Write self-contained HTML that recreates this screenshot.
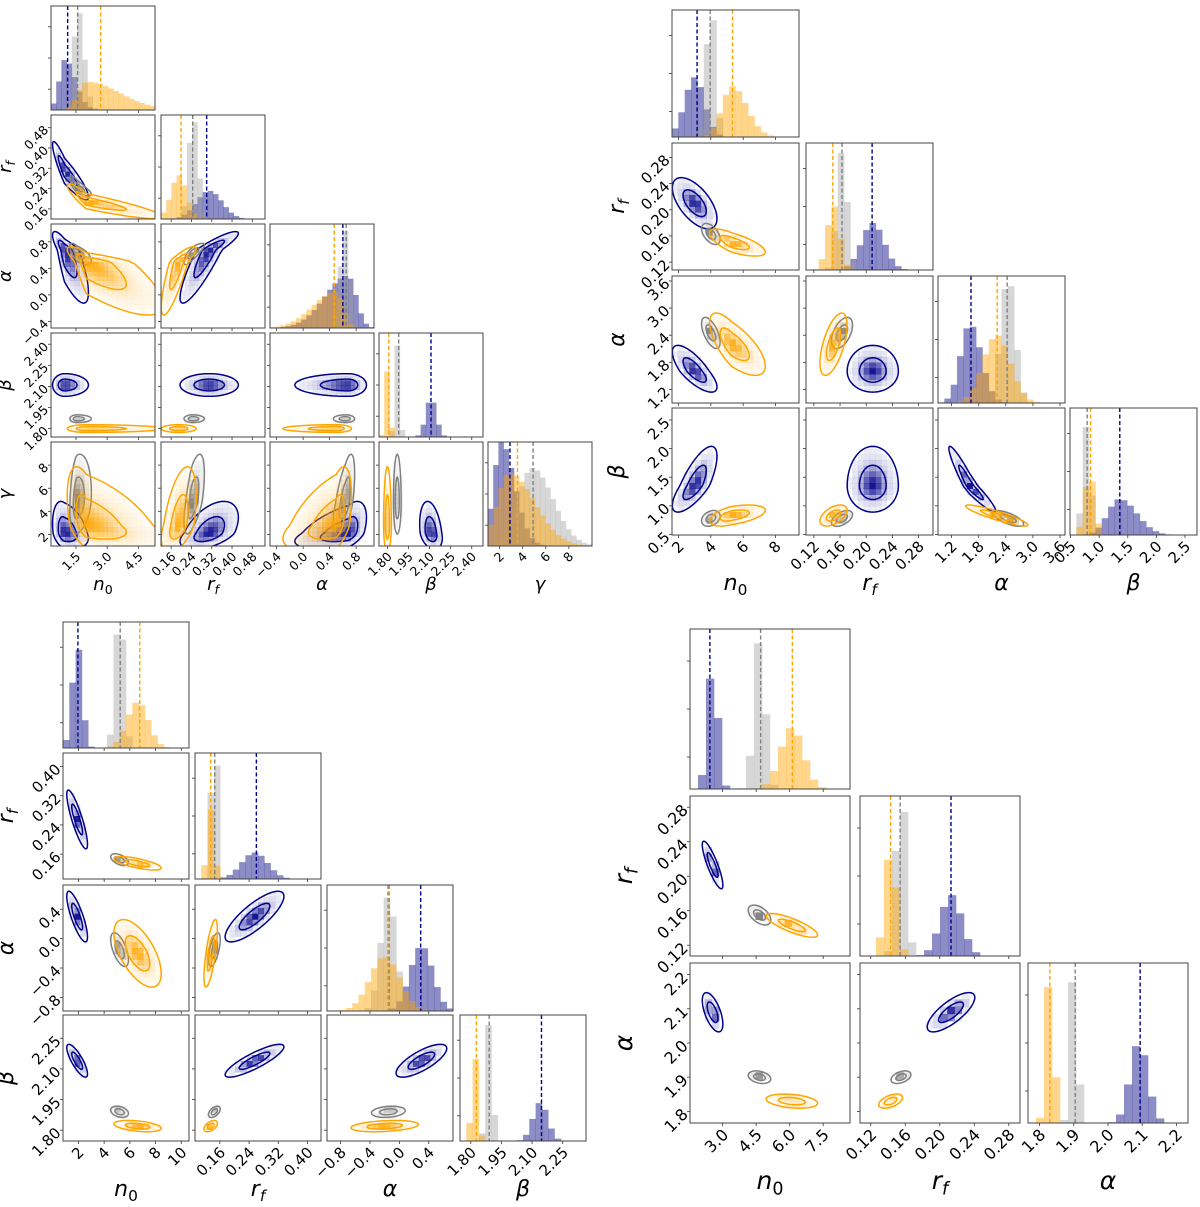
<!DOCTYPE html>
<html><head><meta charset="utf-8"><title>Corner plots</title>
<style>
html,body{margin:0;padding:0;background:#fff;}
svg{display:block;font-family:"DejaVu Sans","Liberation Sans",sans-serif;}
</style></head>
<body>
<svg id="chart" width="1200" height="1207" viewBox="0 0 1200 1207" xmlns="http://www.w3.org/2000/svg"></svg>
<script>
// ===== Data =====
// Top-left figure: n0, rf, alpha, beta, gamma
const tlLabels = ['n0','rf','α','β','γ'];
const tlRanges = [[0.3,5.3],[0.12,0.53],[-0.5,1.07],[1.74,2.48],[1.0,10.0]];
const tlTicks = [[1.5,3.0,4.5],[0.16,0.24,0.32,0.40,0.48],[-0.4,0.0,0.4,0.8],[1.80,1.95,2.10,2.25,2.40],[2,4,6,8]];
const tlTickLabels = [['1.5','3.0','4.5'],['0.16','0.24','0.32','0.40','0.48'],['−0.4','0.0','0.4','0.8'],['1.80','1.95','2.10','2.25','2.40'],['2','4','6','8']];
const tlBlueMode = [0.95,0.31,0.68,2.11,2.1];
const tlBlueSdL = [0.25,0.05,0.35,0.035,0.6];
const tlBlueSdR = [0.5,0.05,0.12,0.035,1.2];
const tlBluePeak = [0.48,0.27,0.5,0.33,1.0];
const tlBlueMean = [1.1,0.30,0.6,2.11,2.9];
const tlBlueCorr = [-0.9,-0.8,0.9,0,0,0,-0.3,0.5,0.5,-0.3];
const tlGreyMode = [1.55,0.245,0.64,1.87,4.8];
const tlGreySdL = [0.15,0.015,0.08,0.012,1.2];
const tlGreySdR = [0.3,0.02,0.06,0.012,1.8];
const tlGreyPeak = [0.93,0.93,0.93,0.88,0.75];
const tlGreyMean = [1.58,0.245,0.65,1.88,4.9];
const tlGreyCorr = [-0.8,-0.7,0.8,0,0,0,0.2,0.6,0.6,0];
const tlOrangeMode = [2.0,0.19,0.5,1.80,2.8];
const tlOrangeSdL = [0.4,0.03,0.35,0.012,1.0];
const tlOrangeSdR = [1.6,0.03,0.1,0.012,2.2];
const tlOrangePeak = [0.27,0.42,0.35,0.63,0.7];
const tlOrangeMean = [2.69,0.199,0.47,1.81,3.55];
const tlOrangeCorr = [-0.9,-0.8,0.85,0,0,0,-0.5,0.5,0.5,0];

// Top-right figure: n0, rf, alpha, beta
const trLabels = ['n0','rf','α','β'];
const trRanges = [[1.6,9.45],[0.108,0.302],[0.9,3.71],[0.49,2.71]];
const trTicks = [[2,4,6,8],[0.12,0.16,0.20,0.24,0.28],[1.2,1.8,2.4,3.0,3.6],[0.5,1.0,1.5,2.0,2.5]];
const trTickLabels = [['2','4','6','8'],['0.12','0.16','0.20','0.24','0.28'],['1.2','1.8','2.4','3.0','3.6'],['0.5','1.0','1.5','2.0','2.5']];
const trBlueMode = [3.0,0.21,1.6,1.35];
const trBlueSdL = [0.6,0.017,0.2,0.2];
const trBlueSdR = [0.6,0.017,0.25,0.3];
const trBluePeak = [0.47,0.37,0.6,0.28];
const trBlueMean = [3.15,0.209,1.63,1.36];
const trBlueCorr = [-0.6,-0.75,0,0.75,0,-0.95];
const trGreyMode = [4.0,0.163,2.45,0.78];
const trGreySdL = [0.25,0.007,0.15,0.06];
const trGreySdR = [0.25,0.007,0.15,0.06];
const trGreyPeak = [0.92,0.92,0.92,0.85];
const trGreyMean = [3.96,0.163,2.43,0.79];
const trGreyCorr = [-0.5,-0.6,0.5,0.3,0.5,-0.7];
const trOrangeMode = [5.3,0.15,2.2,0.83];
const trOrangeSdL = [0.6,0.009,0.3,0.08];
const trOrangeSdR = [0.9,0.009,0.3,0.08];
const trOrangePeak = [0.4,0.5,0.53,0.42];
const trOrangeMean = [5.34,0.149,2.21,0.85];
const trOrangeCorr = [-0.7,-0.7,0.6,0.5,0.5,-0.9];

// Bottom-left figure: n0, rf, alpha, beta
const blLabels = ['n0','rf','α','β'];
const blRanges = [[0.8,10.6],[0.092,0.437],[-0.985,0.73],[1.747,2.364]];
const blTicks = [[2,4,6,8,10],[0.16,0.24,0.32,0.40],[-0.8,-0.4,0.0,0.4],[1.80,1.95,2.10,2.25]];
const blTickLabels = [['2','4','6','8','10'],['0.16','0.24','0.32','0.40'],['−0.8','−0.4','0.0','0.4'],['1.80','1.95','2.10','2.25']];
const blBlueMode = [1.9,0.255,0.3,2.14];
const blBlueSdL = [0.35,0.035,0.15,0.035];
const blBlueSdR = [0.35,0.035,0.15,0.035];
const blBluePeak = [0.78,0.21,0.5,0.3];
const blBlueMean = [1.96,0.26,0.29,2.146];
const blBlueCorr = [-0.85,-0.8,0.8,-0.8,0.85,0.75];
const blGreyMode = [5.2,0.145,-0.15,1.89];
const blGreySdL = [0.3,0.007,0.1,0.012];
const blGreySdR = [0.3,0.007,0.1,0.012];
const blGreyPeak = [0.9,0.9,0.9,0.92];
const blGreyMean = [5.25,0.146,-0.14,1.89];
const blGreyCorr = [-0.5,-0.6,0.6,-0.3,0.5,0.2];
const blOrangeMode = [6.6,0.135,-0.2,1.82];
const blOrangeSdL = [0.8,0.008,0.2,0.012];
const blOrangeSdR = [0.8,0.008,0.2,0.012];
const blOrangePeak = [0.36,0.55,0.43,0.65];
const blOrangeMean = [6.77,0.135,-0.159,1.827];
const blOrangeCorr = [-0.7,-0.6,0.7,-0.4,0.5,0.3];

// Bottom-right figure: n0, rf, alpha
const brLabels = ['n0','rf','α'];
const brRanges = [[1.54,8.7],[0.1075,0.293],[1.766,2.234]];
const brTicks = [[3.0,4.5,6.0,7.5],[0.12,0.16,0.20,0.24,0.28],[1.8,1.9,2.0,2.1,2.2]];
const brTickLabels = [['3.0','4.5','6.0','7.5'],['0.12','0.16','0.20','0.24','0.28'],['1.8','1.9','2.0','2.1','2.2']];
const brBlueMode = [2.55,0.213,2.09];
const brBlueSdL = [0.2,0.012,0.025];
const brBlueSdR = [0.2,0.012,0.025];
const brBluePeak = [0.69,0.38,0.48];
const brBlueMean = [2.43,0.213,2.094];
const brBlueCorr = [-0.85,-0.6,0.75];
const brGreyMode = [4.65,0.155,1.9];
const brGreySdL = [0.22,0.005,0.008];
const brGreySdR = [0.22,0.005,0.008];
const brGreyPeak = [0.91,0.9,0.88];
const brGreyMean = [4.7,0.154,1.904];
const brGreyCorr = [-0.5,-0.3,0.4];
const brOrangeMode = [6.1,0.143,1.83];
const brOrangeSdL = [0.5,0.006,0.009];
const brOrangeSdR = [0.5,0.006,0.009];
const brOrangePeak = [0.38,0.6,0.85];
const brOrangeMean = [6.12,0.143,1.83];
const brOrangeCorr = [-0.8,-0.3,0.5];

// ===== Rendering =====
const NS = 'http://www.w3.org/2000/svg';
const svg = document.getElementById('chart');
let clipId = 0;
function mk(tag, attrs, parent){
  const e = document.createElementNS(NS, tag);
  for (const k in attrs) e.setAttribute(k, attrs[k]);
  if (parent) parent.appendChild(e);
  return e;
}
const COLORS = {
  blue:{line:'#00008b', fill:'#000080', op:0.45, heat:[0,0,139]},
  grey:{line:'#808080', fill:'#9a9a9a', op:0.4, heat:[110,110,110]},
  orange:{line:'#ffa500', fill:'#ffa500', op:0.45, heat:[255,165,0]}
};
function corrAt(arr, i, j){ return arr[i*(i-1)/2 + j]; }
function sdOf(s, k, side){ return side<0 ? s.sdL[k] : s.sdR[k]; }

function drawFigure(fig, series, figName){
  const g = mk('g', {}, svg);
  
  
  const n = fig.labels.length, S = fig.size;
  const sx = (j, v) => fig.cols[j] + (v - fig.ranges[j][0]) / (fig.ranges[j][1] - fig.ranges[j][0]) * S;
  const sy = (i, v) => fig.rows[i] + S - (v - fig.ranges[i][0]) / (fig.ranges[i][1] - fig.ranges[i][0]) * S;
  for (let i = 0; i < n; i++) for (let j = 0; j <= i; j++) {
    const x0 = fig.cols[j], y0 = fig.rows[i];
    const pg = mk('g', {}, g);
    
    
    const cid = 'clip' + (clipId++);
    const cp = mk('clipPath', {id: cid}, pg);
    mk('rect', {x:x0, y:y0, width:S, height:S}, cp);
    const inner = mk('g', {'clip-path':'url(#' + cid + ')'}, pg);
    if (i === j) {
      const nb = 20, r = fig.ranges[i], bw = (r[1]-r[0])/nb;
      series.forEach(s => {
        const masses = [];
        for (let b = 0; b < nb; b++) {
          let m = 0;
          for (let q = 0; q < 12; q++) {
            const c = r[0] + bw*(b + (q+0.5)/12);
            const d = c - s.mode[i], sd = sdOf(s, i, d<0?-1:1);
            m += Math.exp(-0.5*(d/sd)*(d/sd));
          }
          masses.push(m);
        }
        const mx = Math.max(...masses) || 1;
        const hg = mk('g', {fill:COLORS[s.c].fill, 'fill-opacity':COLORS[s.c].op}, inner);
        
        
        for (let b = 0; b < nb; b++) {
          const h = masses[b]/mx * s.peak[i];
          if (h < 0.004) continue;
          const xa = sx(i, r[0]+b*bw), xb = sx(i, r[0]+(b+1)*bw);
          const bar = mk('rect', {x:xa, y:y0+S-h*S, width:xb-xa+0.3, height:h*S}, hg);
          
          
        }
      });
      series.forEach(s => {
        const xm = sx(i, s.mean[i]);
        const ln = mk('line', {x1:xm, x2:xm, y1:y0, y2:y0+S, stroke:COLORS[s.c].line, 'stroke-width':1.4, 'stroke-dasharray':'4,2.5'}, inner);
        
        
      });
      [0.25,0.5,0.75].forEach(f => mk('line', {x1:x0-3, x2:x0, y1:y0+S-f*S*1.2+S*0.1, y2:y0+S-f*S*1.2+S*0.1, stroke:'#333', 'stroke-width':0.8}, pg));
    } else {
      const nc = 22, rx = fig.ranges[j], ry = fig.ranges[i];
      series.forEach(s => {
        const rho = corrAt(s.corr, i, j);
        const cw = (rx[1]-rx[0])/nc, ch = (ry[1]-ry[0])/nc;
        const hg = mk('g', {}, inner);
        
        
        const col = COLORS[s.c].heat;
        for (let a = 0; a < nc; a++) for (let b = 0; b < nc; b++) {
          const cx = rx[0] + (a+0.5)*cw, cy = ry[0] + (b+0.5)*ch;
          const dx = cx - s.mode[j], dy = cy - s.mode[i];
          const u = dx / sdOf(s, j, dx<0?-1:1), v = dy / sdOf(s, i, dy<0?-1:1);
          const m2 = (u*u - 2*rho*u*v + v*v)/(1 - rho*rho);
          const d = Math.exp(-0.5*m2);
          if (d < 0.1) continue;
          const xa = sx(j, rx[0]+a*cw), xb = sx(j, rx[0]+(a+1)*cw);
          const ya = sy(i, ry[0]+(b+1)*ch), yb = sy(i, ry[0]+b*ch);
          const cell = mk('rect', {x:xa, y:ya, width:xb-xa+0.3, height:yb-ya+0.3, fill:'rgb('+col.join(',')+')', 'fill-opacity':(0.06+0.85*d*d).toFixed(3)}, hg);
          
          
        }
        [1.2, 2.3].forEach(rad => {
          let dstr = '';
          for (let t = 0; t <= 64; t++) {
            const th = t/64*2*Math.PI;
            const u = rad*Math.cos(th), w = rad*Math.sin(th);
            const v = rho*u + Math.sqrt(1-rho*rho)*w;
            const vx = s.mode[j] + u*sdOf(s, j, u<0?-1:1);
            const vy = s.mode[i] + v*sdOf(s, i, v<0?-1:1);
            dstr += (t ? 'L' : 'M') + sx(j, vx).toFixed(2) + ',' + sy(i, vy).toFixed(2);
          }
          const p = mk('path', {d:dstr + 'Z', fill:'none', stroke:COLORS[s.c].line, 'stroke-width':1.5}, inner);
          
          
        });
      });
      fig.ticks[i].forEach(tv => { const yy = sy(i, tv); mk('line', {x1:x0-3, x2:x0, y1:yy, y2:yy, stroke:'#333', 'stroke-width':0.8}, pg); });
    }
    fig.ticks[j].forEach(tv => { const xx = sx(j, tv); mk('line', {x1:xx, x2:xx, y1:y0+S, y2:y0+S+3, stroke:'#333', 'stroke-width':0.8}, pg); });
    const fr = mk('rect', {x:x0, y:y0, width:S, height:S, fill:'none', stroke:'#444', 'stroke-width':1}, pg);
    
    
    if (i === n-1) {
      fig.ticks[j].forEach((tv, k) => {
        const xx = sx(j, tv), yy = y0 + S + 6;
        const t = mk('text', {x:xx, y:yy, 'font-size':fig.fs, 'text-anchor':'end', fill:'#000', transform:'rotate(-45 '+xx+' '+yy+')', dy:'0.6em'}, g);
        t.textContent = fig.tickLabels[j][k];
        
        
      });
      const lab = mk('text', {x:x0+S/2, y:y0+S+fig.xlOff, 'font-size':fig.lfs, 'text-anchor':'middle', 'font-style':'italic', fill:'#000'}, g);
      setLabel(lab, fig.labels[j], fig.lfs);
      
      
    }
    if (j === 0 && i > 0) {
      fig.ticks[i].forEach((tv, k) => {
        const yy = sy(i, tv), xx = x0 - 5;
        const t = mk('text', {x:xx, y:yy, 'font-size':fig.fs, 'text-anchor':'end', fill:'#000', transform:'rotate(-45 '+xx+' '+yy+')', dy:'0.35em'}, g);
        t.textContent = fig.tickLabels[i][k];
        
        
      });
      const lx = x0 - fig.ylOff, ly = y0 + S/2;
      const lab = mk('text', {x:lx, y:ly, 'font-size':fig.lfs, 'text-anchor':'middle', 'font-style':'italic', fill:'#000', transform:'rotate(-90 '+lx+' '+ly+')'}, g);
      setLabel(lab, fig.labels[i], fig.lfs);
      
      
    }
  }
}
function setLabel(el, txt, fs){
  if (txt === 'n0' || txt === 'rf') {
    el.appendChild(document.createTextNode(txt[0]));
    const sub = document.createElementNS(NS, 'tspan');
    sub.setAttribute('font-size', fs*0.7);
    sub.setAttribute('dy', fs*0.22);
    sub.setAttribute('font-style', txt === 'rf' ? 'italic' : 'normal');
    sub.textContent = txt[1];
    el.appendChild(sub);
  } else el.textContent = txt;
}
function mkSeries(p){
  return [
    {c:'blue', mode:p[0], sdL:p[1], sdR:p[2], peak:p[3], mean:p[4], corr:p[5]},
    {c:'grey', mode:p[6], sdL:p[7], sdR:p[8], peak:p[9], mean:p[10], corr:p[11]},
    {c:'orange', mode:p[12], sdL:p[13], sdR:p[14], peak:p[15], mean:p[16], corr:p[17]}
  ];
}
const KEYS5 = ['n0','rf','alpha','beta','gamma'];
drawFigure({labels:tlLabels, keys:KEYS5, ranges:tlRanges, ticks:tlTicks, tickLabels:tlTickLabels,
  cols:[51,161,270,379,488], rows:[6,115,224,333,442], size:104, fs:12.5, lfs:18, xlOff:44, ylOff:40},
  mkSeries([tlBlueMode,tlBlueSdL,tlBlueSdR,tlBluePeak,tlBlueMean,tlBlueCorr,
            tlGreyMode,tlGreySdL,tlGreySdR,tlGreyPeak,tlGreyMean,tlGreyCorr,
            tlOrangeMode,tlOrangeSdL,tlOrangeSdR,tlOrangePeak,tlOrangeMean,tlOrangeCorr]), 'figure-top-left');
drawFigure({labels:trLabels, keys:KEYS5, ranges:trRanges, ticks:trTicks, tickLabels:trTickLabels,
  cols:[672,806,938,1070], rows:[10,143,276,408], size:127, fs:15, lfs:22, xlOff:55, ylOff:48},
  mkSeries([trBlueMode,trBlueSdL,trBlueSdR,trBluePeak,trBlueMean,trBlueCorr,
            trGreyMode,trGreySdL,trGreySdR,trGreyPeak,trGreyMean,trGreyCorr,
            trOrangeMode,trOrangeSdL,trOrangeSdR,trOrangePeak,trOrangeMean,trOrangeCorr]), 'figure-top-right');
drawFigure({labels:blLabels, keys:KEYS5, ranges:blRanges, ticks:blTicks, tickLabels:blTickLabels,
  cols:[63,195,327,460], rows:[622,753,885,1015], size:126, fs:15, lfs:22, xlOff:55, ylOff:50},
  mkSeries([blBlueMode,blBlueSdL,blBlueSdR,blBluePeak,blBlueMean,blBlueCorr,
            blGreyMode,blGreySdL,blGreySdR,blGreyPeak,blGreyMean,blGreyCorr,
            blOrangeMode,blOrangeSdL,blOrangeSdR,blOrangePeak,blOrangeMean,blOrangeCorr]), 'figure-bottom-left');
drawFigure({labels:brLabels, keys:KEYS5, ranges:brRanges, ticks:brTicks, tickLabels:brTickLabels,
  cols:[690,860,1028], rows:[629,796,963], size:160, fs:16, lfs:25, xlOff:66, ylOff:58},
  mkSeries([brBlueMode,brBlueSdL,brBlueSdR,brBluePeak,brBlueMean,brBlueCorr,
            brGreyMode,brGreySdL,brGreySdR,brGreyPeak,brGreyMean,brGreyCorr,
            brOrangeMode,brOrangeSdL,brOrangeSdR,brOrangePeak,brOrangeMean,brOrangeCorr]), 'figure-bottom-right');
</script>
</body></html>
